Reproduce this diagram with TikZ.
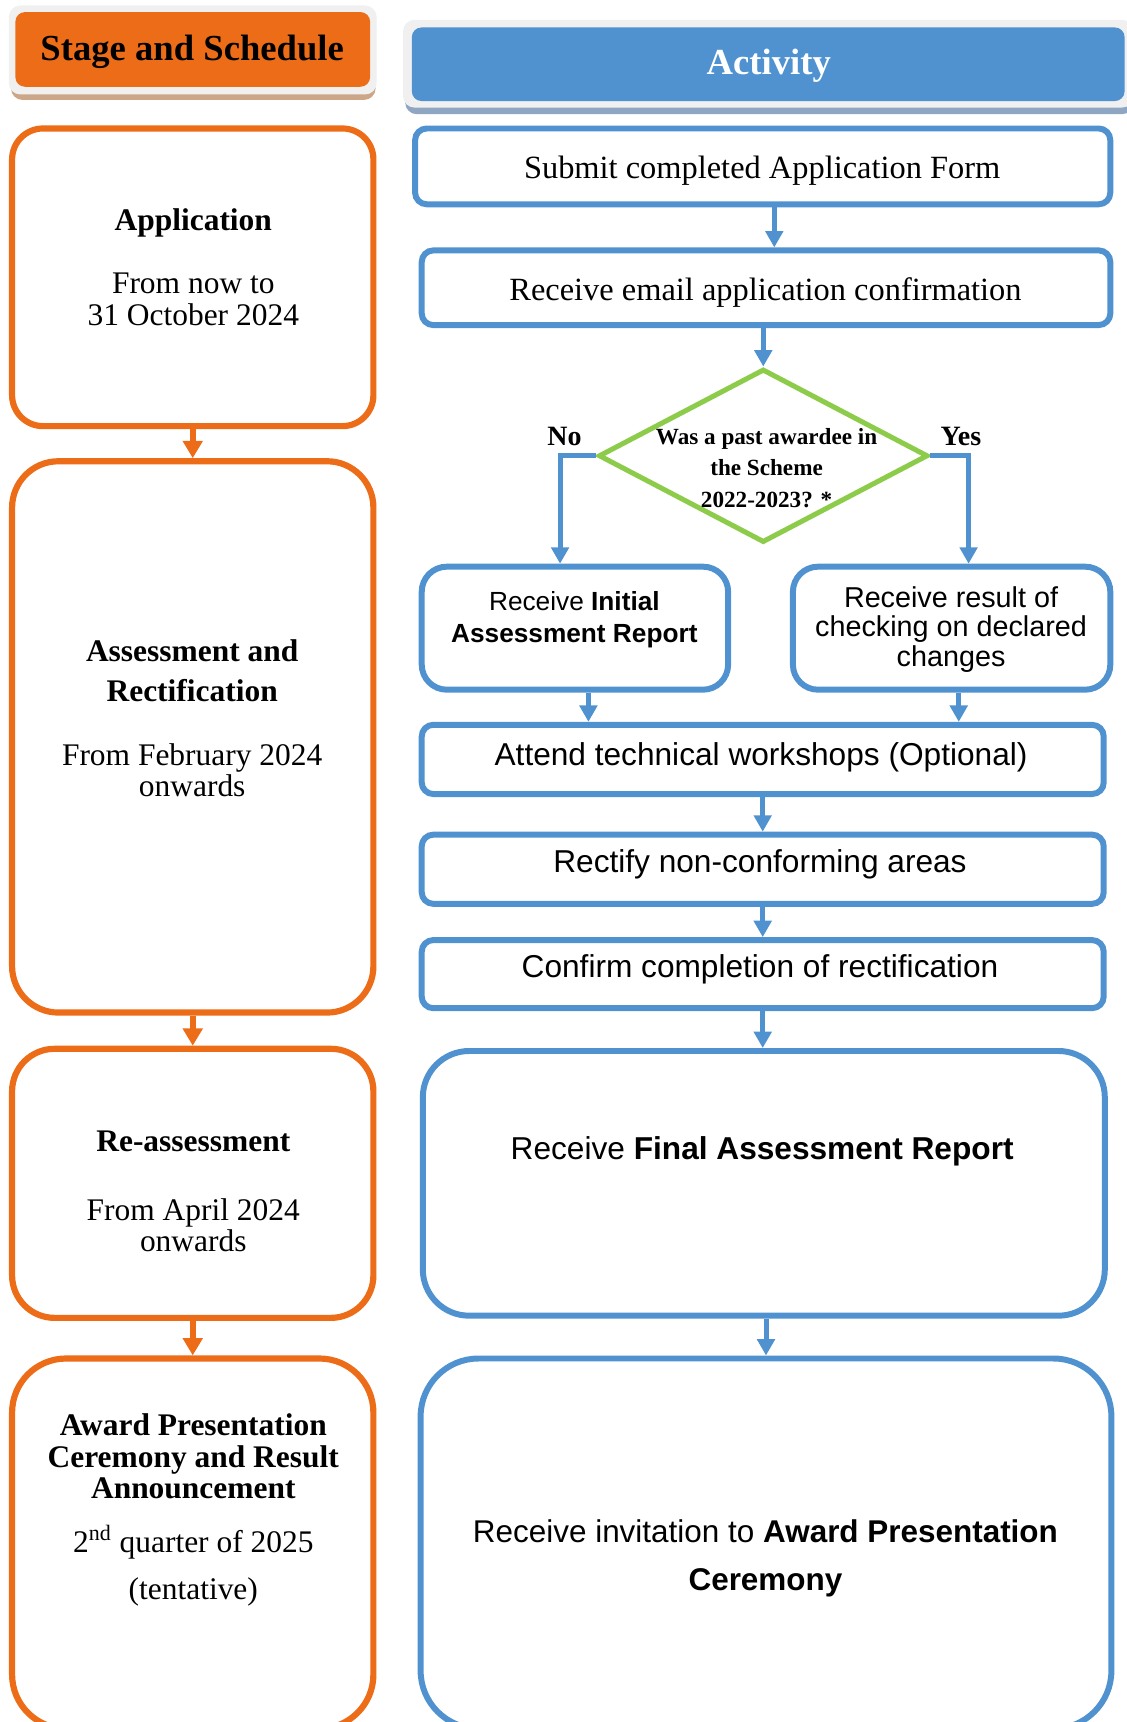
\documentclass[tikz,border=0pt]{standalone}
\usepackage{fontspec}
\setmainfont{Liberation Serif}
\setsansfont{Liberation Sans}
\usetikzlibrary{shapes.geometric,fit,arrows.meta}
\definecolor{stageorange}{RGB}{236,108,24}
\definecolor{actblue}{RGB}{80,146,208}
\definecolor{qgreen}{RGB}{141,204,75}
\definecolor{tanshade}{RGB}{203,166,137}
\definecolor{blueshade}{RGB}{143,166,194}
\definecolor{framegray}{RGB}{240,240,240}

\begin{document}
\begin{tikzpicture}[x=0.02cm,y=-0.02cm]
  \tikzset{stagebox/.style={draw=stageorange,line width=3.2pt,inner sep=0pt},
    actbox/.style={draw=actblue,line width=3.1pt,inner sep=0pt},
    oarrow/.style={stageorange,line width=3.2pt,-{Triangle[width=10pt,length=9pt]}},
    barrow/.style={actblue,line width=2.6pt,-{Triangle[width=9pt,length=8.5pt]}},
    serif/.style={font=\fontsize{16.3}{16.4}\selectfont,align=center},
    sans/.style={font=\sffamily\fontsize{16.4}{16.4}\selectfont,align=center}}
  \useasboundingbox (0,0) rectangle (1026,1568);

  % headers
  \node[fit={(10,10) (342,91)},fill=tanshade,rounded corners=6pt,inner sep=0pt] (stageshade) {};
  \node[fit={(8,5) (343,86)},fill=framegray,rounded corners=6pt,inner sep=0pt] (stageframe) {};
  \node[fit={(14,11) (337,79)},fill=stageorange,rounded corners=5pt,inner sep=0pt] (stagehead) {};
  \node[font=\bfseries\fontsize{19}{19}\selectfont] (stagetxt) at (175,47) {Stage and Schedule};
  \node[fit={(369,23) (1032,104)},fill=blueshade,rounded corners=6pt,inner sep=0pt] (actshade) {};
  \node[fit={(367,18) (1032,98)},fill=framegray,rounded corners=6pt,inner sep=0pt] (actframe) {};
  \node[fit={(375,25) (1024,92)},fill=actblue,rounded corners=5pt,inner sep=0pt] (acthead) {};
  \node[font=\bfseries\fontsize{19}{19}\selectfont,text=white] (acttxt) at (700,60) {Activity};

  % stage column
  \node[stagebox,rounded corners=16pt,fit={(11,117) (340,388)}] (app) {};
  \node[stagebox,rounded corners=24pt,fit={(11,420) (340,922)}] (assess) {};
  \node[stagebox,rounded corners=22pt,fit={(11,955) (340,1200)}] (reass) {};
  \node[stagebox,rounded corners=28pt,fit={(11,1237) (340,1574)}] (award) {};
  \node[serif] (apptxt) at (176,243) {\textbf{Application}\\[16.5pt] From now to\\ 31 October 2024};
  \node[serif] (assesstxt) at (175,654) {\textbf{Assessment and}\\[4.6pt] \textbf{Rectification}\\[16.5pt] From February 2024\\ onwards};
  \node[serif] (reasstxt) at (176,1085) {\textbf{Re-assessment}\\[19.3pt] From April 2024\\ onwards};
  \node[serif] (awardtxt) at (176,1375) {\textbf{Award Presentation}\\ \textbf{Ceremony and Result}\\ \textbf{Announcement}\\[11.4pt]
    2\textsuperscript{nd} quarter of 2025\\[8pt] (tentative)};
  \draw[oarrow] (app.south) -- (assess.north);
  \draw[oarrow] (assess.south) -- (reass.north);
  \draw[oarrow] (reass.south) -- (award.north);

  % activity column
  \node[actbox,rounded corners=6pt,fit={(378,117) (1011,186)}] (b1) {};
  \node[actbox,rounded corners=6pt,fit={(384,228) (1011,296)}] (b2) {};
  \node[diamond,draw=qgreen,line width=2.6pt,minimum width=6cm,minimum height=3.16cm,inner sep=0pt] (q) at (695,415) {};
  \node[actbox,rounded corners=13pt,fit={(384,516) (663,628)}] (b3) {};
  \node[actbox,rounded corners=13pt,fit={(722,516) (1011,628)}] (b4) {};
  \node[actbox,rounded corners=6pt,fit={(384,660) (1005,723)}] (b5) {};
  \node[actbox,rounded corners=6pt,fit={(384,760) (1005,823)}] (b6) {};
  \node[actbox,rounded corners=6pt,fit={(384,856) (1005,918)}] (b7) {};
  \node[actbox,rounded corners=24pt,fit={(385,957) (1006,1198)}] (b8) {};
  \node[actbox,rounded corners=30pt,fit={(383,1237) (1012,1574)}] (b9) {};

  \node[serif,font=\fontsize{16.8}{16.8}\selectfont] (b1txt) at (694,155) {Submit completed Application Form};
  \node[serif,font=\fontsize{16.8}{16.8}\selectfont] (b2txt) at (697,266) {Receive email application confirmation};
  \node[font=\bfseries\fontsize{12}{16.4}\selectfont,align=center] (qtxt) at (698,426) {Was a past awardee in\\ the Scheme\\ 2022-2023? *};
  \node[font=\bfseries\fontsize{14.5}{14.5}\selectfont] (notxt) at (514,397) {No};
  \node[font=\bfseries\fontsize{14.5}{14.5}\selectfont] (yestxt) at (875,397) {Yes};
  \node[font=\sffamily\fontsize{13.6}{16.4}\selectfont,align=center] (b3txt) at (523,564) {Receive \textbf{Initial}\\ \textbf{Assessment Report}};
  \node[font=\sffamily\fontsize{14.9}{15.3}\selectfont,align=center] (b4txt) at (866,573) {Receive result of\\ checking on declared\\ changes};
  \node[sans] (b5txt) at (693,690) {Attend technical workshops (Optional)};
  \node[sans] (b6txt) at (692,787) {Rectify non-conforming areas};
  \node[sans] (b7txt) at (692,883) {Confirm completion of rectification};
  \node[sans] (b8txt) at (694,1048) {Receive \textbf{Final Assessment Report}};
  \node[sans,font=\sffamily\fontsize{16.3}{24.4}\selectfont] (b9txt) at (697,1419) {Receive invitation to \textbf{Award Presentation}\\ \textbf{Ceremony}};

  \draw[barrow] ([xshift=6pt]b1.south) -- ([xshift=6pt]b1.south |- b2.north);
  \draw[barrow] (q.north |- b2.south) -- (q.north);
  \draw[barrow] (q.west) -| ([xshift=-7.7pt]b3.north);
  \draw[barrow] (q.east) -| ([xshift=8.8pt]b4.north);
  \draw[barrow] ([xshift=7pt]b3.south) -- ([xshift=7pt]b3.south |- b5.north);
  \draw[barrow] ([xshift=3.7pt]b4.south) -- ([xshift=3.7pt]b4.south |- b5.north);
  \draw[barrow] (b5.south) -- (b6.north);
  \draw[barrow] (b6.south) -- (b7.north);
  \draw[barrow] (b7.south) -- (b7.south |- b8.north);
  \draw[barrow] (b9.north |- b8.south) -- (b9.north);
\end{tikzpicture}
\end{document}
